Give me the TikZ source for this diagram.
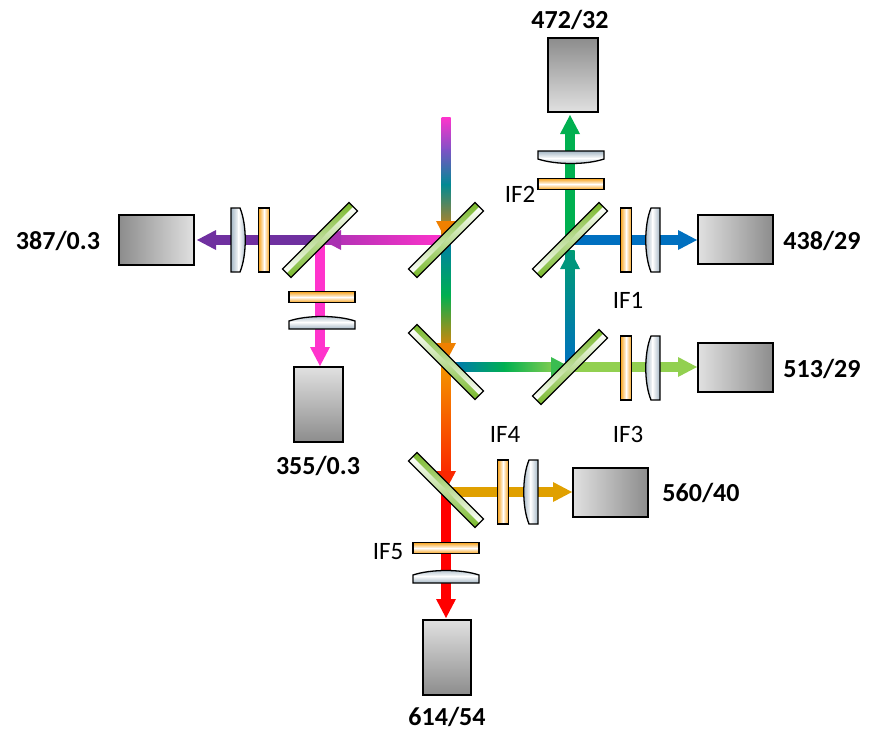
\documentclass[tikz,border=0pt]{standalone}
\usepackage{fontspec}
\setmainfont{Carlito}
\begin{document}
\begin{tikzpicture}[x=1pt,y=-1pt,
 lbl/.style={font=\fontsize{26}{30}\selectfont\bfseries},
 ifl/.style={font=\fontsize{25}{30}\selectfont}]
\definecolor{mir}{HTML}{78B82A}
\definecolor{flt}{HTML}{F7A21B}
\definecolor{lns}{HTML}{A4B6C4}
\definecolor{mag}{HTML}{FF33CC}
\definecolor{pur}{HTML}{7030A0}
\definecolor{blu}{HTML}{0070C0}
\definecolor{grn}{HTML}{00B050}
\definecolor{lgr}{HTML}{92D050}
\definecolor{gld}{HTML}{E0A000}
\definecolor{org}{HTML}{F08000}
\useasboundingbox (0,0) rectangle (883,739);
% three-colour shading helpers
\newcommand\hthree[9]{\begin{scope}\clip #1; \shade[left color=#6,right color=#7] (#2,#4) rectangle ({(#2+#3)/2+0.3},#5); \shade[left color=#7,right color=#8] ({(#2+#3)/2},#4) rectangle (#3,#5);\end{scope}\draw[black,line width=#9] #1;}
\newcommand\vthree[9]{\begin{scope}\clip #1; \shade[top color=#6,bottom color=#7] (#2,#4) rectangle (#3,{(#4+#5)/2+0.3}); \shade[top color=#7,bottom color=#8] (#2,{(#4+#5)/2}) rectangle (#3,#5);\end{scope}\draw[black,line width=#9] #1;}
% beams
\newcommand\vbm[5]{\shade[top color=#4,bottom color=#5] (#1-4.5,#2) rectangle (#1+4.5,#3);}
\newcommand\hbm[5]{\shade[left color=#4,right color=#5] (#2,#1-4.5) rectangle (#3,#1+4.5);}
\newcommand\ad[3]{\fill[#3] (#1-10,#2-19) -- (#1+10,#2-19) -- (#1,#2) -- cycle;}
\newcommand\au[3]{\fill[#3] (#1-10,#2+19) -- (#1+10,#2+19) -- (#1,#2) -- cycle;}
\newcommand\ar[3]{\fill[#3] (#1-19,#2-10) -- (#1-19,#2+10) -- (#1,#2) -- cycle;}
\newcommand\al[3]{\fill[#3] (#1+19,#2-10) -- (#1+19,#2+10) -- (#1,#2) -- cycle;}
\vbm{446}{117}{150}{mag}{mag!50!blu}
\vbm{446}{149}{185}{mag!50!blu}{blu!60!grn}
\vbm{446}{184}{240}{blu!60!grn}{org}
\hbm{240}{322}{446}{pur!60!mag}{mag}
\hbm{240}{210}{322}{pur}{pur}
\vbm{320}{240}{350}{mag}{mag}
\vbm{446}{240}{296}{blu!80!grn}{grn}
\vbm{446}{295}{352}{grn}{org}
\hbm{367}{446}{505}{blu}{grn}
\hbm{367}{504}{560}{grn}{lgr}
\hbm{367}{570}{680}{lgr}{lgr}
\vbm{570}{250}{367}{grn!70!blu}{blu}
\vbm{570}{130}{240}{grn}{grn}
\hbm{240}{570}{680}{blu}{blu}
\vbm{446}{362}{475}{org!80!yellow}{red!70!org}
\hbm{492}{446}{555}{gld}{gld}
\vbm{446}{492}{600}{red}{red}
\al{322}{240}{pur!60!mag}
\al{197}{240}{pur}
\ad{320}{366}{mag}
\ad{446}{240}{org}
\ad{446}{362}{org}
\ar{570}{367}{grn!60!lgr}
\ar{697}{367}{lgr}
\au{570}{250}{grn!60!blu}
\au{570}{115}{grn}
\ar{697}{240}{blu}
\ad{446}{490}{red!70!org}
\ar{572}{492}{gld}
\ad{446}{618}{red}
% mirrors
\newcommand\mirror[3]{\begin{scope}[shift={(#1,#2)},rotate=#3]
 \vthree{(-47,-6) rectangle (47,6)}{-47}{47}{-6}{6}{mir}{white}{mir}{1.2pt}\end{scope}}
\mirror{446}{240}{45}
\mirror{320}{240}{45}
\mirror{570}{240}{45}
\mirror{570}{367}{45}
\mirror{446}{362}{-45}
\mirror{446}{490}{-45}
% filters
\newcommand\vf[2]{\hthree{(#1-5.5,#2-32) rectangle (#1+5.5,#2+32)}{#1-5.5}{#1+5.5}{#2-32}{#2+32}{flt}{white}{flt}{1.3pt}}
\newcommand\hf[2]{\vthree{(#1-33,#2-5.5) rectangle (#1+33,#2+5.5)}{#1-33}{#1+33}{#2-5.5}{#2+5.5}{flt}{white}{flt}{1.3pt}}
\vf{264}{240}\vf{626}{240}\vf{626}{368}\vf{503}{492}
\hf{322}{297}\hf{571}{184}\hf{446}{548}
% lenses
\newcommand\lensR[2]{\hthree{(#1,#2-32) -- (#1+9,#2-32) .. controls (#1+16,#2-15) and (#1+16,#2+15) .. (#1+9,#2+32) -- (#1,#2+32) -- cycle}{#1}{#1+15}{#2-33}{#2+33}{lns}{white}{lns}{1.3pt}}
\newcommand\lensL[2]{\hthree{(#1,#2-32) -- (#1-9,#2-32) .. controls (#1-16,#2-15) and (#1-16,#2+15) .. (#1-9,#2+32) -- (#1,#2+32) -- cycle}{#1-15}{#1}{#2-33}{#2+33}{lns}{white}{lns}{1.3pt}}
\newcommand\lensU[2]{\vthree{(#1-33,#2) -- (#1-33,#2-8) .. controls (#1-15,#2-14) and (#1+15,#2-14) .. (#1+33,#2-8) -- (#1+33,#2) -- cycle}{#1-33}{#1+33}{#2-14}{#2}{lns}{white}{lns}{1.3pt}}
\newcommand\lensD[2]{\vthree{(#1-33,#2) -- (#1-33,#2+8) .. controls (#1-15,#2+14) and (#1+15,#2+14) .. (#1+33,#2+8) -- (#1+33,#2) -- cycle}{#1-33}{#1+33}{#2}{#2+14}{lns}{white}{lns}{1.3pt}}
\lensR{231}{240}
\lensL{660}{240}
\lensL{660}{368}
\lensL{538}{492}
\lensU{322}{329}
\lensD{571}{151}
\lensU{446}{583}
% detectors
\tikzset{det/.style={draw=black,line width=2.2pt}}
\shade[det,left color=black!45,right color=black!12] (119,215) rectangle (194,265);
\shade[det,left color=black!12,right color=black!45] (698,215) rectangle (773,264);
\shade[det,left color=black!12,right color=black!45] (698,343) rectangle (773,392);
\shade[det,left color=black!12,right color=black!45] (573,468) rectangle (648,517);
\shade[det,top color=black!45,bottom color=black!12] (548,38) rectangle (598,112);
\shade[det,top color=black!12,bottom color=black!45] (294,367) rectangle (343,442);
\shade[det,top color=black!12,bottom color=black!45] (423,620) rectangle (471,695);
% labels
\node[lbl] (l1) at (570,20) {472/32};
\node[lbl] (l2) at (58,241) {387/0.3};
\node[lbl] (l3) at (822,241) {438/29};
\node[lbl] (l4) at (822,369) {513/29};
\node[lbl] (l5) at (318,466) {355/0.3};
\node[lbl] (l6) at (701,493) {560/40};
\node[lbl] (l7) at (447,717) {614/54};
\node[ifl] (i2) at (520,194) {IF2};
\node[ifl] (i1) at (628,300) {IF1};
\node[ifl] (i3) at (628,434) {IF3};
\node[ifl] (i4) at (505,434) {IF4};
\node[ifl] (i5) at (388,552) {IF5};
\end{tikzpicture}
\end{document}
